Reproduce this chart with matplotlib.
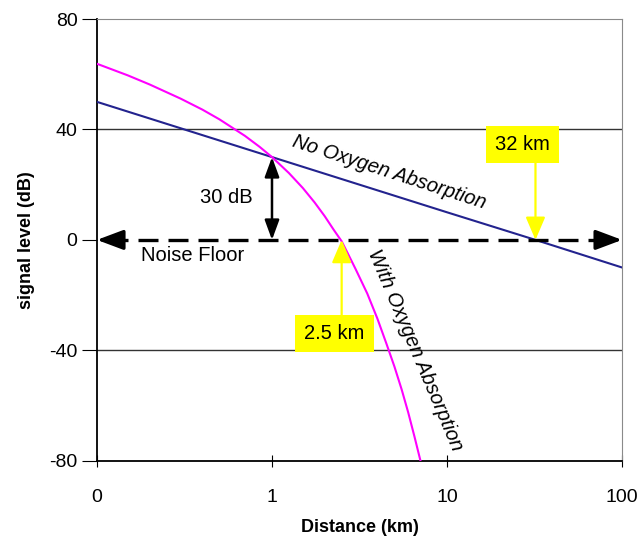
import matplotlib.pyplot as plt
from matplotlib.ticker import NullLocator

plt.rcParams['font.family'] = ['Liberation Sans', 'DejaVu Sans']

# values
dist_free = [0.1, 1, 10, 32, 100]
level_free = [50, 30, 10, 0, -10]

dist_oxy = [0.1, 0.15, 0.2, 0.3, 0.4, 0.5, 0.7, 0.85, 1, 1.25, 1.5, 1.75,
            2, 2.25, 2.5, 2.75, 3, 3.5, 4, 4.5, 5, 5.5, 6, 6.5, 7.05]
level_oxy = [63.8, 59.6, 56.3, 51.2, 47.2, 43.7, 37.7, 33.7, 30, 24.2,
             18.8, 13.6, 8.6, 3.7, -0.5, -5.7, -10.5, -19.4, -28.5, -37.5,
             -45.8, -54.1, -62.5, -71.0, -80]

noise_floor = 0
margin_db = 30
range_free = 32
range_oxy = 2.5

x_ticks = [0.1, 1, 10, 100]
x_tick_labels = ["0", "1", "10", "100"]
y_ticks = [-80, -40, 0, 40, 80]
y_tick_labels = ["-80", "-40", "0", "40", "80"]


def main():
    fig, ax = plt.subplots(figsize=(6.42, 5.44), dpi=100)
    fig.subplots_adjust(left=0.151, right=0.969, bottom=0.153, top=0.965)

    ax.set_xscale('log')
    ax.set_xlim(0.1, 100)
    ax.set_ylim(-80, 80)
    ax.xaxis.set_minor_locator(NullLocator())
    ax.set_xticks(x_ticks, x_tick_labels)
    ax.set_yticks(y_ticks, y_tick_labels)
    ax.tick_params(axis='x', direction='inout', length=8, pad=16, labelsize=14)
    ax.tick_params(axis='y', direction='out', length=11, pad=3, labelsize=14)

    for s in ['top', 'right']:
        ax.spines[s].set_color('#8a8a8a')
    for s in ['left', 'bottom']:
        ax.spines[s].set_linewidth(1.3)

    for y in [40, -40]:
        ax.axhline(y, color='#333333', lw=1.0, zorder=1)

    ax.plot(dist_free, level_free, color='#23238e', lw=1.5, zorder=3)
    ax.plot(dist_oxy, level_oxy, color='#ff00ff', lw=1.5, zorder=3)

    # noise floor: dashed line with arrow heads at both ends
    ax.plot([0.115, 87], [noise_floor, noise_floor], color='k', lw=2.4,
            dashes=(6, 3), zorder=4)
    head = dict(arrowstyle='-|>,head_length=0.8,head_width=0.3', color='k',
                lw=2.4, mutation_scale=20, shrinkA=0, shrinkB=0)
    ax.annotate('', xy=(0.1, noise_floor), xytext=(0.13, noise_floor),
                arrowprops=head, annotation_clip=False, zorder=5)
    ax.annotate('', xy=(100, noise_floor), xytext=(75, noise_floor),
                arrowprops=head, annotation_clip=False, zorder=5)
    ax.text(0.35, -5.5, "Noise Floor", fontsize=14.5, ha='center', va='center')

    # 30 dB margin
    ax.annotate('', xy=(1, margin_db), xytext=(1, noise_floor),
                arrowprops=dict(arrowstyle='<|-|>,head_length=0.6,head_width=0.22',
                                color='k', lw=1.8, mutation_scale=20,
                                shrinkA=0, shrinkB=0), zorder=5)
    ax.text(0.55, 15.5, "30 dB", fontsize=14.5, ha='center', va='center')

    # curve labels
    ax.text(4.7, 24.6, "No Oxygen Absorption", fontsize=14.5, style='italic',
            rotation=-18, rotation_mode='anchor', ha='center', va='center')
    ax.text(6.6, -39.8, "With Oxygen Absorption", fontsize=14.5, style='italic',
            rotation=-67, rotation_mode='anchor', ha='center', va='center')

    # range callouts
    yellow = '#ffff00'
    arrow_y = dict(arrowstyle='-|>,head_length=0.7,head_width=0.3',
                   color=yellow, lw=1.6, mutation_scale=20,
                   shrinkA=0, shrinkB=0)
    ax.annotate('', xy=(range_free, noise_floor), xytext=(range_free, 28.5),
                arrowprops=arrow_y, zorder=6)
    ax.text(27, 34.4, "32 km", fontsize=14.5, ha='center', va='center',
            bbox=dict(boxstyle='square,pad=0.45', fc=yellow, ec='none'),
            zorder=6)
    ax.annotate('', xy=(range_oxy, noise_floor), xytext=(range_oxy, -28.5),
                arrowprops=arrow_y, zorder=6)
    ax.text(2.27, -34.0, "2.5 km", fontsize=14.5, ha='center', va='center',
            bbox=dict(boxstyle='square,pad=0.45', fc=yellow, ec='none'),
            zorder=6)

    ax.set_xlabel("Distance (km)", fontsize=13, fontweight='bold', labelpad=10)
    ax.set_ylabel("signal level (dB)", fontsize=13, fontweight='bold',
                  labelpad=10)

    fig.savefig("out.png", dpi=100)


if __name__ == "__main__":
    main()
